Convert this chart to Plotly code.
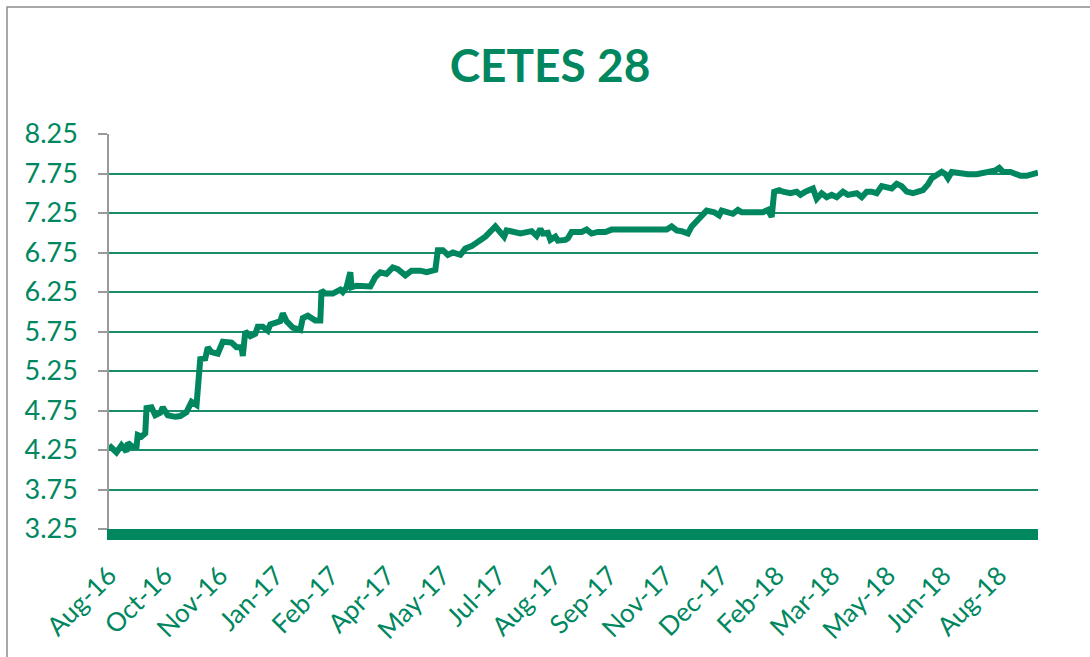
import pandas as pd
import plotly.graph_objects as go

# ---- data ----
start_date = "2016-08-25"
days_since_start = [
    0, 6, 10, 14, 15, 19, 22, 23, 26, 29, 30, 34, 37, 41, 43, 47, 53, 57, 62, 66, 70,
    73, 77, 79, 82, 87, 91, 98, 102, 106, 107, 109, 113, 117, 119, 123, 127, 129, 133,
    137, 139, 142, 147, 153, 155, 159, 165, 169, 170, 173, 179, 185, 187, 190, 193, 194,
    198, 209, 213, 217, 222, 227, 231, 237, 242, 249, 254, 261, 263, 267, 271, 275, 281,
    285, 290, 298, 301, 309, 312, 316, 318, 323, 329, 338, 342, 345, 347, 351, 353, 357,
    359, 365, 367, 370, 374, 378, 382, 386, 391, 397, 402, 409, 414, 422, 430, 438, 442,
    446, 450, 454, 458, 463, 466, 470, 474, 478, 484, 488, 490, 495, 499, 503, 506, 511,
    517, 523, 527, 530, 532, 536, 539, 545, 550, 553, 557, 563, 566, 570, 574, 578, 582,
    587, 591, 598, 602, 606, 610, 614, 618, 622, 626, 630, 634, 638, 643, 647, 651, 655,
    658, 662, 666, 669, 671, 674, 681, 687, 694, 699, 705, 709, 712, 715, 721, 725, 729,
    734, 741, 743,
]
cetes28 = [
    4.31, 4.22, 4.31, 4.23, 4.34, 4.29, 4.29, 4.44, 4.42, 4.46, 4.78, 4.79, 4.69, 4.72, 4.79,
    4.69, 4.67, 4.68, 4.73, 4.86, 4.82,
    5.40, 5.41, 5.55, 5.49, 5.47, 5.62, 5.61, 5.55, 5.55, 5.44, 5.75, 5.69, 5.72, 5.81, 5.81,
    5.76, 5.84, 5.86, 5.88, 5.98, 5.88, 5.80, 5.77, 5.92, 5.95, 5.89, 5.89, 6.27, 6.23, 6.23,
    6.28, 6.25, 6.31, 6.50, 6.31, 6.33, 6.32, 6.44, 6.50, 6.48, 6.56, 6.54, 6.46, 6.52, 6.52,
    6.50, 6.53, 6.78, 6.78, 6.72, 6.75, 6.72, 6.80, 6.83, 6.91, 6.95, 7.08, 7.01, 6.95, 7.03,
    7.02, 6.99, 7.02, 6.96, 7.05, 6.99, 7.00, 6.91, 6.95, 6.90, 6.91, 6.93, 7.01, 7.01, 7.01,
    7.04, 6.99, 7.01, 7.01, 7.04, 7.05, 7.04, 7.04, 7.04, 7.04, 7.05, 7.04, 7.08, 7.03, 7.02,
    6.99, 7.08, 7.14, 7.20, 7.28, 7.26, 7.22, 7.28, 7.26, 7.24, 7.29, 7.26, 7.26, 7.26, 7.26,
    7.29, 7.20, 7.52, 7.54, 7.52, 7.50, 7.52, 7.48, 7.52, 7.56, 7.43, 7.50, 7.45, 7.48, 7.45,
    7.52, 7.48, 7.50, 7.45, 7.52, 7.52, 7.50, 7.59, 7.57, 7.56, 7.62, 7.59, 7.52, 7.50, 7.52,
    7.54, 7.61, 7.69, 7.73, 7.77, 7.74, 7.69, 7.77, 7.75, 7.74, 7.74, 7.76, 7.77, 7.79, 7.82,
    7.77, 7.77, 7.75, 7.72, 7.72, 7.75, 7.76,
]
tick_labels = [
    "Aug-16", "Oct-16", "Nov-16", "Jan-17", "Feb-17", "Apr-17", "May-17", "Jul-17", "Aug-17",
    "Sep-17", "Nov-17", "Dec-17", "Feb-18", "Mar-18", "May-18", "Jun-18", "Aug-18",
]
tick_step_days = 44.5
y_ticks = [3.25, 3.75, 4.25, 4.75, 5.25, 5.75, 6.25, 6.75, 7.25, 7.75, 8.25]

GREEN = "#00875F"
GRID = "#1A8C69"

t0 = pd.Timestamp(start_date)
dates = [t0 + pd.Timedelta(days=d) for d in days_since_start]
tick_vals = [t0 + pd.Timedelta(days=tick_step_days * i) for i in range(len(tick_labels))]

fig = go.Figure()
fig.add_trace(go.Scatter(
    x=dates, y=cetes28, mode="lines",
    line=dict(color=GREEN, width=6, shape="linear"),
    hoverinfo="x+y", showlegend=False,
))

W, H = 1090, 657
L, R, T, B = 109, 1090 - 1038, 134, 657 - 529

fig.update_layout(
    width=W, height=H,
    margin=dict(l=L, r=R, t=T, b=B, pad=0, autoexpand=False),
    paper_bgcolor="white", plot_bgcolor="white",
    font=dict(family="Lato, Open Sans, sans-serif", color=GREEN),
    title=dict(
        text="<b>CETES 28</b>",
        font=dict(family="Lato", size=46, color=GREEN),
        x=550 / W, xanchor="center", xref="container",
        y=1 - 66 / H, yanchor="middle", yref="container",
    ),
    xaxis=dict(
        type="date", automargin=False,
        range=[dates[0], dates[-1]],
        tickmode="array", tickvals=tick_vals, ticktext=tick_labels,
        tickangle=-45, tickfont=dict(size=26, color=GREEN),
        showgrid=False, zeroline=False,
        showline=True, linecolor=GREEN, linewidth=11,
        ticks="outside", ticklen=10, tickcolor="rgba(0,0,0,0)",
        fixedrange=True,
    ),
    yaxis=dict(
        automargin=False,
        range=[3.25, 8.25],
        tickmode="array", tickvals=y_ticks,
        ticktext=[f"{v:.2f}" for v in y_ticks],
        tickfont=dict(size=27, color=GREEN),
        showgrid=True, gridcolor=GRID, gridwidth=2,
        zeroline=False,
        showline=True, linecolor="#9A9A9A", linewidth=1.5,
        ticks="outside", ticklen=9, tickcolor="#9A9A9A", tickwidth=1.5,
        ticklabelstandoff=15,
        fixedrange=True,
    ),
    shapes=[dict(
        type="rect", xref="paper", yref="paper",
        x0=(7 - L) / (W - L - R), x1=(1100 - L) / (W - L - R),
        y0=(H - B - 670) / (H - T - B), y1=(H - B - 7) / (H - T - B),
        line=dict(color="#8C8C8C", width=1.5), fillcolor="rgba(0,0,0,0)", layer="below",
    )],
)

fig.write_html("out.html")
